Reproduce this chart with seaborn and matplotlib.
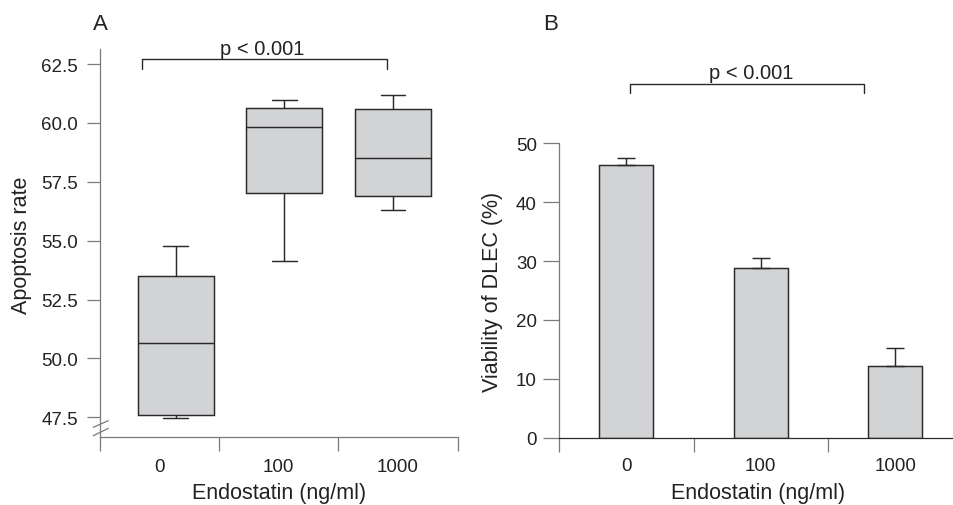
import numpy as np
import pandas as pd
import matplotlib
matplotlib.use("Agg")
import matplotlib.pyplot as plt
import seaborn as sns

# ---------------- data ----------------
categories = ["0", "100", "1000"]
# Panel A: five-number summaries (min, Q1, median, Q3, max)
apop_0 = [47.49, 47.59, 50.67, 53.49, 54.76]
apop_100 = [54.14, 57.01, 59.83, 60.65, 60.96]
apop_1000 = [56.29, 56.88, 58.51, 60.58, 61.17]
# Panel B: bar means and upper errors
viability = [46.25, 28.76, 12.12]
viability_err = [1.19, 1.75, 3.16]
ytick_a = [47.5, 50.0, 52.5, 55.0, 57.5, 60.0, 62.5]
ytick_b = [0, 10, 20, 30, 40, 50]
x_title = "Endostatin (ng/ml)"
y_title_a = "Apoptosis rate"
y_title_b = "Viability of DLEC (%)"
p_text = "p < 0.001"

df_a = pd.DataFrame({
    "dose": np.repeat(categories, 5),
    "rate": apop_0 + apop_100 + apop_1000,
})
df_b = pd.DataFrame({"dose": categories, "viab": viability})

# ---------------- style ----------------
sns.set_theme(style="ticks")
plt.rcParams["font.family"] = ["Liberation Sans", "DejaVu Sans"]
FILL = "#d2d3d5"
EDGE = "#2a2a2a"
SPINE = "#7a7a7a"
TXT = "#222222"

W, H = 954, 506
fig = plt.figure(figsize=(W / 100, H / 100), dpi=100)

def fx(px):
    return px / W

def fy(py):
    return 1 - py / H

# ---------------- panel A ----------------
axA = fig.add_axes([fx(100), fy(438), fx(358), 388 / H])
sns.boxplot(data=df_a, x="dose", y="rate", ax=axA, width=0.70, whis=(0, 100),
            color=FILL, linecolor=EDGE, linewidth=1.05, fliersize=0,
            capwidths=0.23)
for p in axA.patches:
    p.set_facecolor(FILL)
axA.set_ylim(46.666, 63.137)
axA.set_xlim(-0.700, 2.599)
sepA = [-0.700, 0.396, 1.493, 2.599]
axA.set_xticks([(sepA[i] + sepA[i + 1]) / 2 for i in range(3)])
axA.set_xticklabels(categories)
axA.set_xticks(sepA, minor=True)
axA.tick_params(axis="x", which="major", length=0, pad=15, labelsize=13.5, labelcolor=TXT)
axA.tick_params(axis="x", which="minor", length=10, width=0.9, color=SPINE)
axA.set_yticks(ytick_a)
axA.set_yticklabels([f"{v:.1f}" for v in ytick_a])
axA.tick_params(axis="y", length=9.5, width=0.9, color=SPINE, pad=6.5,
                labelsize=13.5, labelcolor=TXT)
axA.set_xlabel("")
axA.set_ylabel("")
for s in ["top", "right"]:
    axA.spines[s].set_visible(False)
for s in ["left", "bottom"]:
    axA.spines[s].set_color(SPINE)
    axA.spines[s].set_linewidth(0.9)
# axis break marks
for y0, y1 in [(0.025, 0.042), (0.0034, 0.0224)]:
    axA.plot([-0.0187, 0.0232], [y0, y1], transform=axA.transAxes,
             color=SPINE, lw=0.9, clip_on=False)
# significance bracket
axA.plot([-0.313, -0.313, 1.945, 1.945], [62.29, 62.71, 62.71, 62.29],
         color=EDGE, lw=1.0, clip_on=False)
axA.text(0.793, 62.92, p_text, ha="center", va="baseline", fontsize=14.5,
         color=TXT, clip_on=False)

# ---------------- panel B ----------------
axB = fig.add_axes([fx(559), fy(438.7), fx(403.5), (438.7 - 144.3) / H])
sns.barplot(data=df_b, x="dose", y="viab", ax=axB, width=0.40, errorbar=None,
            color=FILL, edgecolor=EDGE, linewidth=1.05)
for p in axB.patches:
    p.set_facecolor(FILL)
axB.errorbar(np.arange(len(categories)), viability,
             yerr=[np.zeros(len(viability_err)), viability_err],
             fmt="none", ecolor=EDGE, elinewidth=1.05, capsize=6.5, capthick=1.05,
             zorder=1)
axB.set_ylim(0, 50)
axB.set_xlim(-0.5, 2.5)
axB.set_xticks([0, 1, 2])
axB.set_xticklabels(categories)
axB.set_xticks([-0.5, 0.5, 1.5, 2.5], minor=True)
axB.tick_params(axis="x", which="major", length=0, pad=14, labelsize=13.5, labelcolor=TXT)
axB.tick_params(axis="x", which="minor", length=10, width=0.9, color=SPINE)
axB.set_yticks(ytick_b)
axB.tick_params(axis="y", length=11.5, width=0.9, color=SPINE, pad=4.5,
                labelsize=13.5, labelcolor=TXT)
axB.set_xlabel("")
axB.set_ylabel("")
for s in ["top", "right"]:
    axB.spines[s].set_visible(False)
axB.spines["left"].set_color(SPINE)
axB.spines["left"].set_linewidth(0.9)
axB.spines["bottom"].set_color(EDGE)
axB.spines["bottom"].set_linewidth(0.9)
axB.plot([0.03, 0.03, 1.77, 1.77], [58.5, 60.0, 60.0, 58.5],
         color=EDGE, lw=1.0, clip_on=False)
axB.text(0.93, 61.1, p_text, ha="center", va="baseline", fontsize=14.5,
         color=TXT, clip_on=False)

# ---------------- labels ----------------
fig.text(fx(93), fy(25), "A", ha="left", va="center", fontsize=16, color=TXT)
fig.text(fx(543), fy(25), "B", ha="left", va="center", fontsize=16, color=TXT)
fig.text(fx(21.5), fy(245), y_title_a, rotation=90, ha="center", va="center",
         fontsize=15.5, color=TXT)
fig.text(fx(493), fy(292), y_title_b, rotation=90, ha="center", va="center",
         fontsize=15.5, color=TXT)
fig.text(fx(279), fy(499.5), x_title, ha="center", va="baseline",
         fontsize=15.5, color=TXT)
fig.text(fx(758), fy(499.5), x_title, ha="center", va="baseline",
         fontsize=15.5, color=TXT)

fig.savefig("out.png", dpi=100)
